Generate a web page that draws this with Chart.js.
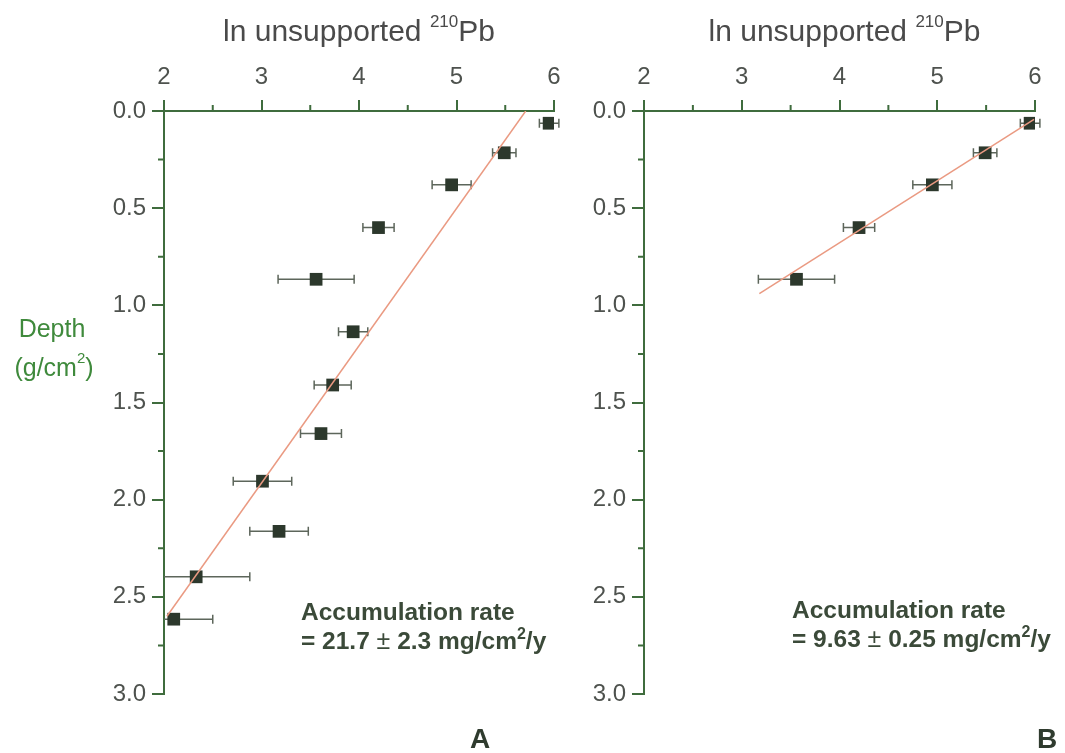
<!DOCTYPE html>
<html>
<head>
<meta charset="utf-8">
<script src="https://cdn.jsdelivr.net/npm/chart.js@4.4.1/dist/chart.umd.min.js"></script>
<style>
  body { margin: 0; background: #fff; width: 1065px; height: 753px; overflow: hidden; position: relative; }
  canvas { position: absolute; top: 0; }
  #panelA { left: 0; }
  #panelB { left: 560px; }
</style>
</head>
<body>
<canvas id="panelA" width="600" height="753"></canvas>
<canvas id="panelB" width="505" height="753"></canvas>
<script>
// ln of unsupported 210Pb activity per slice, its 1-sigma error, and slice mid-depth (g/cm2)
const lnPb    = [5.95, 5.49, 4.95, 4.20, 3.56, 3.94, 3.73, 3.61, 3.01, 3.18, 2.33, 2.10];
const lnPbErr = [0.10, 0.12, 0.20, 0.16, 0.39, 0.15, 0.19, 0.21, 0.30, 0.30, 0.55, 0.40];
const depth   = [0.063, 0.215, 0.38, 0.60, 0.866, 1.136, 1.41, 1.66, 1.905, 2.163, 2.397, 2.615];

// panel B fits only the upper slices
const upperCount = 5;

// regression line end points [lnPb, depth]
const fitLineA = [[5.71, 0.0], [2.03, 2.60]];
const fitLineB = [[5.99, 0.043], [3.18, 0.94]];

const lnTicks = [2, 3, 4, 5, 6];
const lnMinorTicks = [2.5, 3.5, 4.5, 5.5];
const depthTicks = [0.0, 0.5, 1.0, 1.5, 2.0, 2.5, 3.0];
const depthMinorTicks = [0.25, 0.75, 1.25, 1.75, 2.25, 2.75];

const rateA = { value: '21.7', err: '2.3' };
const rateB = { value: '9.63', err: '0.25' };

const AXIS = '#3f6c3d';
const LABEL = '#4e524e';
const FONT = 'Liberation Sans, Arial, sans-serif';

// error bars, minor ticks and all the free text
const decor = {
  id: 'decor',
  beforeDatasetsDraw(chart, args, o) {
    const { ctx, chartArea: a } = chart;
    const xs = chart.scales.x, ys = chart.scales.y;
    ctx.save();
    ctx.beginPath();
    ctx.rect(a.left, a.top - 20, a.right - a.left + 20, a.bottom - a.top + 20);
    ctx.clip();
    ctx.strokeStyle = '#5d665b';
    ctx.lineWidth = 1.5;
    for (let i = 0; i < o.count; i++) {
      const y = ys.getPixelForValue(depth[i]);
      const x0 = xs.getPixelForValue(lnPb[i] - lnPbErr[i]);
      const x1 = xs.getPixelForValue(lnPb[i] + lnPbErr[i]);
      ctx.beginPath();
      ctx.moveTo(x0, y); ctx.lineTo(x1, y);
      ctx.moveTo(x0, y - 4.5); ctx.lineTo(x0, y + 4.5);
      ctx.moveTo(x1, y - 4.5); ctx.lineTo(x1, y + 4.5);
      ctx.stroke();
    }
    ctx.restore();
  },
  afterDraw(chart, args, o) {
    const { ctx, chartArea: a } = chart;
    const xs = chart.scales.x, ys = chart.scales.y;
    ctx.save();
    ctx.strokeStyle = AXIS;
    ctx.lineWidth = 2;
    ctx.beginPath();
    lnMinorTicks.forEach(v => {
      const x = xs.getPixelForValue(v);
      ctx.moveTo(x, a.top); ctx.lineTo(x, a.top - 6);
    });
    depthMinorTicks.forEach(v => {
      const y = ys.getPixelForValue(v);
      ctx.moveTo(a.left, y); ctx.lineTo(a.left - 6, y);
    });
    ctx.stroke();

    // axis title with superscript mass number
    const cx = (a.left + a.right) / 2 + o.titleShift;
    ctx.fillStyle = '#4a4a4a';
    ctx.textBaseline = 'alphabetic';
    const main = 'ln unsupported ', sup = '210', tail = 'Pb';
    ctx.font = `30px ${FONT}`;
    const wMain = ctx.measureText(main).width, wTail = ctx.measureText(tail).width;
    ctx.font = `17px ${FONT}`;
    const wSup = ctx.measureText(sup).width;
    let tx = cx - (wMain + wSup + wTail) / 2;
    ctx.textAlign = 'left';
    ctx.font = `30px ${FONT}`;
    ctx.fillText(main, tx, 41);
    ctx.font = `17px ${FONT}`;
    ctx.fillText(sup, tx + wMain, 27);
    ctx.font = `30px ${FONT}`;
    ctx.fillText(tail, tx + wMain + wSup, 41);

    if (o.depthLabel) {
      ctx.fillStyle = '#3f8a3c';
      ctx.font = `25px ${FONT}`;
      ctx.textAlign = 'center';
      ctx.fillText('Depth', 52, 337);
      const p1 = '(g/cm', p2 = ')';
      const w1 = ctx.measureText(p1).width, w2 = ctx.measureText(p2).width;
      ctx.font = `15px ${FONT}`;
      const ws = ctx.measureText('2').width;
      let px = 54 - (w1 + ws + w2) / 2;
      ctx.textAlign = 'left';
      ctx.font = `25px ${FONT}`;
      ctx.fillText(p1, px, 376);
      ctx.font = `15px ${FONT}`;
      ctx.fillText('2', px + w1, 363);
      ctx.font = `25px ${FONT}`;
      ctx.fillText(p2, px + w1 + ws, 376);
    }

    // accumulation rate note
    ctx.fillStyle = '#3b4a39';
    ctx.textAlign = 'left';
    const nx = o.noteX, ny = o.noteY;
    ctx.font = `bold 24.5px ${FONT}`;
    ctx.fillText('Accumulation rate', nx, ny);
    const parts = [
      ['= ' + o.rate.value + ' ', `bold 24.5px ${FONT}`, 0],
      ['\u00b1', `25px ${FONT}`, 0],
      [' ' + o.rate.err + ' mg/cm', `bold 24.5px ${FONT}`, 0],
      ['2', `bold 16px ${FONT}`, -10],
      ['/y', `bold 24.5px ${FONT}`, 0]
    ];
    let px2 = nx;
    parts.forEach(([t, f, dy]) => {
      ctx.font = f;
      ctx.fillText(t, px2, ny + 29 + dy);
      px2 += ctx.measureText(t).width;
    });

    // panel letter
    ctx.font = `bold 28px ${FONT}`;
    ctx.fillStyle = '#2f3b2e';
    ctx.textAlign = 'center';
    ctx.fillText(o.letter, o.letterX, 748);
    ctx.restore();
  }
};

function makePanel(id, count, fitLine, opts, areaLeft, padRight) {
  const pts = [];
  for (let i = 0; i < count; i++) pts.push({ x: lnPb[i], y: depth[i] });
  return new Chart(document.getElementById(id), {
    type: 'scatter',
    data: {
      datasets: [
        {
          type: 'line',
          data: fitLine.map(p => ({ x: p[0], y: p[1] })),
          borderColor: '#ea9a82',
          borderWidth: 1.5,
          pointRadius: 0,
          fill: false
        },
        {
          data: pts,
          pointStyle: 'rect',
          pointRadius: 9,
          backgroundColor: '#2c382c',
          borderWidth: 0
        }
      ]
    },
    options: {
      responsive: false,
      animation: false,
      events: [],
      layout: { padding: { left: 0, top: 0, right: padRight, bottom: 59 } },
      plugins: {
        legend: { display: false },
        tooltip: { enabled: false },
        decor: opts
      },
      scales: {
        x: {
          type: 'linear',
          position: 'top',
          min: 2,
          max: 6,
          afterBuildTicks: s => { s.ticks = lnTicks.map(v => ({ value: v })); },
          afterFit: s => { s.height = 111; },
          ticks: { color: LABEL, font: { family: FONT, size: 24 }, padding: 8 },
          grid: { drawOnChartArea: false, tickLength: 11, color: AXIS, lineWidth: 2 },
          border: { color: AXIS, width: 2 }
        },
        y: {
          type: 'linear',
          reverse: true,
          min: 0,
          max: 3,
          afterBuildTicks: s => { s.ticks = depthTicks.map(v => ({ value: v })); },
          afterFit: s => { s.width = areaLeft; },
          ticks: { color: LABEL, font: { family: FONT, size: 24 }, padding: 6, callback: v => v.toFixed(1) },
          grid: { drawOnChartArea: false, tickLength: 12, color: AXIS, lineWidth: 2 },
          border: { color: AXIS, width: 2 }
        }
      }
    },
    plugins: [decor]
  });
}

makePanel('panelA', lnPb.length, fitLineA, {
  count: lnPb.length, titleShift: 0, depthLabel: true,
  noteX: 301, noteY: 620, rate: rateA, letter: 'A', letterX: 480
}, 164, 46);

makePanel('panelB', upperCount, fitLineB, {
  count: upperCount, titleShift: 5, depthLabel: false,
  noteX: 232, noteY: 618, rate: rateB, letter: 'B', letterX: 487
}, 84, 30);
</script>
</body>
</html>
